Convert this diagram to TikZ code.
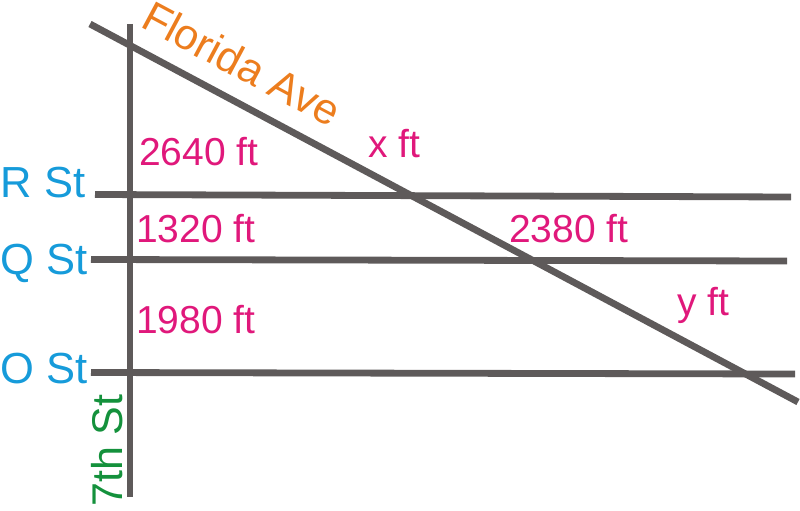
\documentclass[tikz,border=0pt]{standalone}
\usepackage{fontspec}
\setmainfont{Liberation Sans}
\definecolor{roadgray}{RGB}{94,90,90}
\definecolor{stblue}{RGB}{22,155,218}
\definecolor{lenmag}{RGB}{224,24,123}
\definecolor{aveorange}{RGB}{236,125,30}
\definecolor{stgreen}{RGB}{20,145,60}
\begin{document}
\begin{tikzpicture}[x=1pt,y=-1pt,
  road/.style={draw=roadgray,line width=6.8pt},
  stlabel/.style={text=stblue,inner sep=0pt,anchor=base west,font=\fontsize{43.5}{52}\selectfont},
  lenlabel/.style={text=lenmag,inner sep=0pt,anchor=base west,font=\fontsize{39}{47}\selectfont}]
\useasboundingbox (0,0) rectangle (800,511);
% road end points
\coordinate (sevTop) at (130,24);
\coordinate (sevBot) at (130,497);
\coordinate (flaA) at (90,24);
\coordinate (flaB) at (798,402);
\coordinate (rA) at (95,194.5);
\coordinate (rB) at (791,197);
\coordinate (qA) at (91,259.5);
\coordinate (qB) at (787,261);
\coordinate (oA) at (91,372.5);
\coordinate (oB) at (795,374);
\draw[road] (rA) -- (rB);
\draw[road] (qA) -- (qB);
\draw[road] (oA) -- (oB);
\draw[road] (sevTop) -- (sevBot);
\draw[road] (flaA) -- (flaB);
% street labels
\node[stlabel] (rlab) at (0.5,197) {R St};
\node[stlabel] (qlab) at (0.5,274) {Q St};
\node[stlabel] (olab) at (0.5,383) {O St};
\node[text=stgreen,inner sep=0pt,anchor=base west,rotate=90,font=\fontsize{43}{51}\selectfont] (sevlab) at (122,507) {7th St};
\node[text=aveorange,inner sep=0pt,anchor=base west,rotate=-28.1,font=\fontsize{43}{51}\selectfont] (flalab) at (139,26) {Florida Ave};
% lengths
\node[lenlabel] (l2640) at (139,165) {2640 ft};
\node[lenlabel] (l1320) at (136,242) {1320 ft};
\node[lenlabel] (l1980) at (136,333) {1980 ft};
\node[lenlabel] (lx) at (368,157) {x ft};
\node[lenlabel] (l2380) at (509,242) {2380 ft};
\node[lenlabel] (ly) at (677,315) {y ft};
\end{tikzpicture}
\end{document}
